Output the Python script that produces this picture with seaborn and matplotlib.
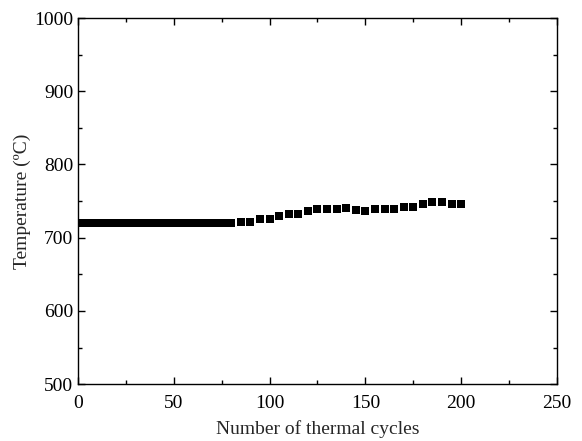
import numpy as np
import matplotlib
matplotlib.use("Agg")
import matplotlib.pyplot as plt
from matplotlib.ticker import MultipleLocator
import pandas as pd
import seaborn as sns

# cycles 0-80: constant at 720 C, recorded every cycle
cycles_early = list(range(0, 81))
temp_early = [720] * len(cycles_early)

# cycles 85-200, every 5 cycles
cycles_late = [85, 90, 95, 100, 105, 110, 115, 120, 125, 130, 135, 140,
               145, 150, 155, 160, 165, 170, 175, 180, 185, 190, 195, 200]
temp_late = [721, 722, 725, 726, 729, 732, 733, 736, 739, 739, 739, 740,
             737.7, 737, 738.7, 739, 739.5, 741.4, 742.2, 745.5, 748.2, 748.2, 746.3, 746.3]

df = pd.DataFrame({
    "cycles": cycles_early + cycles_late,
    "temp": temp_early + temp_late,
})

sns.set_style("ticks")
plt.rcParams['font.family'] = ['Liberation Serif', 'DejaVu Serif']

fig = plt.figure(figsize=(5.82, 4.41), dpi=100)
ax = fig.add_axes([0.134, 0.129, 0.823, 0.830])

sns.scatterplot(data=df, x="cycles", y="temp", marker="s", s=28,
                color="black", edgecolor="black", linewidth=0, ax=ax)

ax.set_xlim(0, 250)
ax.set_ylim(500, 1000)
ax.xaxis.set_major_locator(MultipleLocator(50))
ax.xaxis.set_minor_locator(MultipleLocator(25))
ax.yaxis.set_major_locator(MultipleLocator(100))
ax.yaxis.set_minor_locator(MultipleLocator(50))
ax.tick_params(which="both", direction="in", top=True, right=True,
               labelsize=14, colors="black", width=1)
ax.tick_params(which="major", length=5)
ax.tick_params(which="minor", length=3)
ax.tick_params(axis="x", which="major", pad=8)
for sp in ax.spines.values():
    sp.set_color("black")
    sp.set_linewidth(1)

ax.set_xlabel("Number of thermal cycles", fontsize=14, labelpad=6)
ax.set_ylabel("Temperature (\u00baC)", fontsize=14, labelpad=2)

fig.savefig("out.png", dpi=100)
